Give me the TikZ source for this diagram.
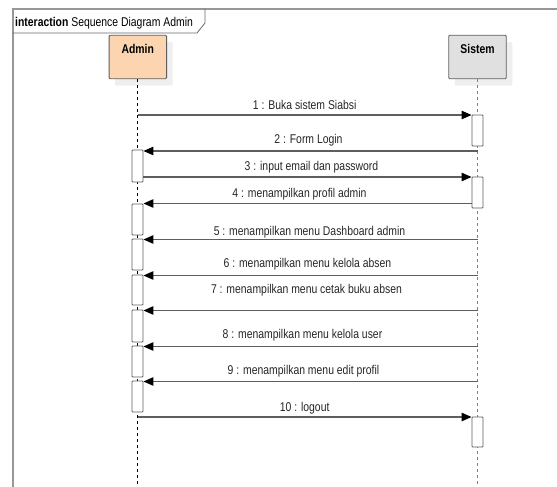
\documentclass[tikz,border=0pt]{standalone}
\usepackage{fontspec}
\setmainfont{Liberation Sans}[FakeStretch=0.82]
\usetikzlibrary{arrows.meta,shadows}
\definecolor{framegray}{HTML}{979797}
\definecolor{tabgray}{HTML}{6A6A6A}
\definecolor{linegray}{HTML}{5E5E5E}
\definecolor{peach}{HTML}{FCD5B0}
\definecolor{boxgray}{HTML}{E0E0E0}
\definecolor{shadowgray}{HTML}{EFEFEF}
\begin{document}
\begin{tikzpicture}[x=1pt,y=-1pt,
  every node/.style={font=\fontsize{12.7}{14}\selectfont},
  part/.style={draw=linegray, line width=0.9pt, rounded corners=1pt,
    minimum width=57.5pt, minimum height=43.5pt, inner sep=0pt,
    drop shadow={opacity=1, fill=shadowgray, shadow xshift=6pt, shadow yshift=-7pt}},
  ptext/.style={anchor=base, inner sep=0pt, font=\fontsize{12.7}{14}\selectfont\bfseries},
  act/.style={draw=linegray, fill=white, line width=0.9pt, rounded corners=0.8pt,
    minimum width=11pt, inner sep=0pt},
  msg/.style={draw=linegray, line width=1.2pt, -{Triangle[length=10pt,width=8.5pt,color=black]}},
  lbl/.style={anchor=base, inner sep=0pt, text=black!85},
  lifeA/.style={black, line width=0.7pt, dash pattern=on 3pt off 3pt},
  lifeS/.style={black!50, line width=1.1pt, dash pattern=on 3pt off 3pt},
]
\useasboundingbox (0,0) rectangle (557,487);

% frame
\draw[framegray, line width=1.6pt] (12.7,487) -- (12.7,9) -- (557,9);
\draw[tabgray, line width=0.8pt] (12.7,33) -- (197,33) -- (205,23) -- (205,9);
\node[anchor=base west, inner sep=0pt] (title) at (15,27) {\textbf{interaction} Sequence Diagram Admin};

% participants
\node[part, fill=peach] (admin) at (137.8,57) {};
\node[ptext] (admintxt) at ([yshift=-19]admin.north) {Admin};
\node[part, fill=boxgray] (sistem) at (477.5,57) {};
\node[ptext] (sistemtxt) at ([yshift=-19]sistem.north) {Sistem};

% lifelines
\coordinate (aend) at (137.8,487);
\coordinate (send) at (477.5,487);
\draw[lifeA] (admin.south) -- (aend);
\draw[lifeS] (sistem.south) -- (send);

% activations
\node[act, minimum height=32pt] (a1) at (137.5,166) {};
\node[act, minimum height=31pt] (a2) at (137.5,219.5) {};
\node[act, minimum height=31pt] (a3) at (137.5,254.5) {};
\node[act, minimum height=30pt] (a4) at (137.5,290) {};
\node[act, minimum height=32pt] (a5) at (137.5,326) {};
\node[act, minimum height=31pt] (a6) at (137.5,361.5) {};
\node[act, minimum height=31pt] (a7) at (137.5,396.5) {};
\node[act, minimum height=31pt] (s1) at (477.5,130.5) {};
\node[act, minimum height=31pt] (s2) at (477.5,192.5) {};
\node[act, minimum height=30pt] (s3) at (477.5,432) {};

% message levels
\coordinate (y1) at (0,115);
\coordinate (y2) at (0,151);
\coordinate (y3) at (0,177);
\coordinate (y4) at (0,203.5);
\coordinate (y5) at (0,239.5);
\coordinate (y6) at (0,275.5);
\coordinate (y7) at (0,310.5);
\coordinate (y8) at (0,346.5);
\coordinate (y9) at (0,381.5);
\coordinate (y10) at (0,417);

\draw[msg] (y1 -| admin) -- (y1 -| s1.west)
  node[lbl, midway, yshift=6] {1 : Buka sistem Siabsi};
\draw[msg] (y2 -| sistem) -- (y2 -| a1.east)
  node[lbl, midway, yshift=8, xshift=-2] {2 : Form Login};
\draw[msg] (y3 -| a1.east) -- (y3 -| s2.west)
  node[lbl, midway, yshift=6.3, xshift=4] {3 : input email dan password};
\draw[msg] (y4 -| s2.west) -- (y4 -| a2.east)
  node[lbl, midway, yshift=6.5, xshift=-8] {4 : menampilkan profil admin};
\draw[msg] (y5 -| sistem) -- (y5 -| a3.east)
  node[lbl, midway, yshift=4.3, xshift=-1] {5 : menampilkan menu Dashboard admin};
\draw[msg] (y6 -| sistem) -- (y6 -| a4.east)
  node[lbl, midway, yshift=7.8, xshift=-3] {6 : menampilkan menu kelola absen};
\draw[msg] (y7 -| sistem) -- (y7 -| a5.east)
  node[lbl, midway, yshift=17, xshift=-4] {7 : menampilkan menu cetak buku absen};
\draw[msg] (y8 -| sistem) -- (y8 -| a6.east)
  node[lbl, midway, yshift=8.5, xshift=-8] {8 : menampilkan menu kelola user};
\draw[msg] (y9 -| sistem) -- (y9 -| a7.east)
  node[lbl, midway, yshift=7.3, xshift=-7] {9 : menampilkan menu edit profil};
\draw[msg] (y10 -| admin) -- (y10 -| s3.west)
  node[lbl, midway, yshift=6] {10 : logout};
\end{tikzpicture}
\end{document}
